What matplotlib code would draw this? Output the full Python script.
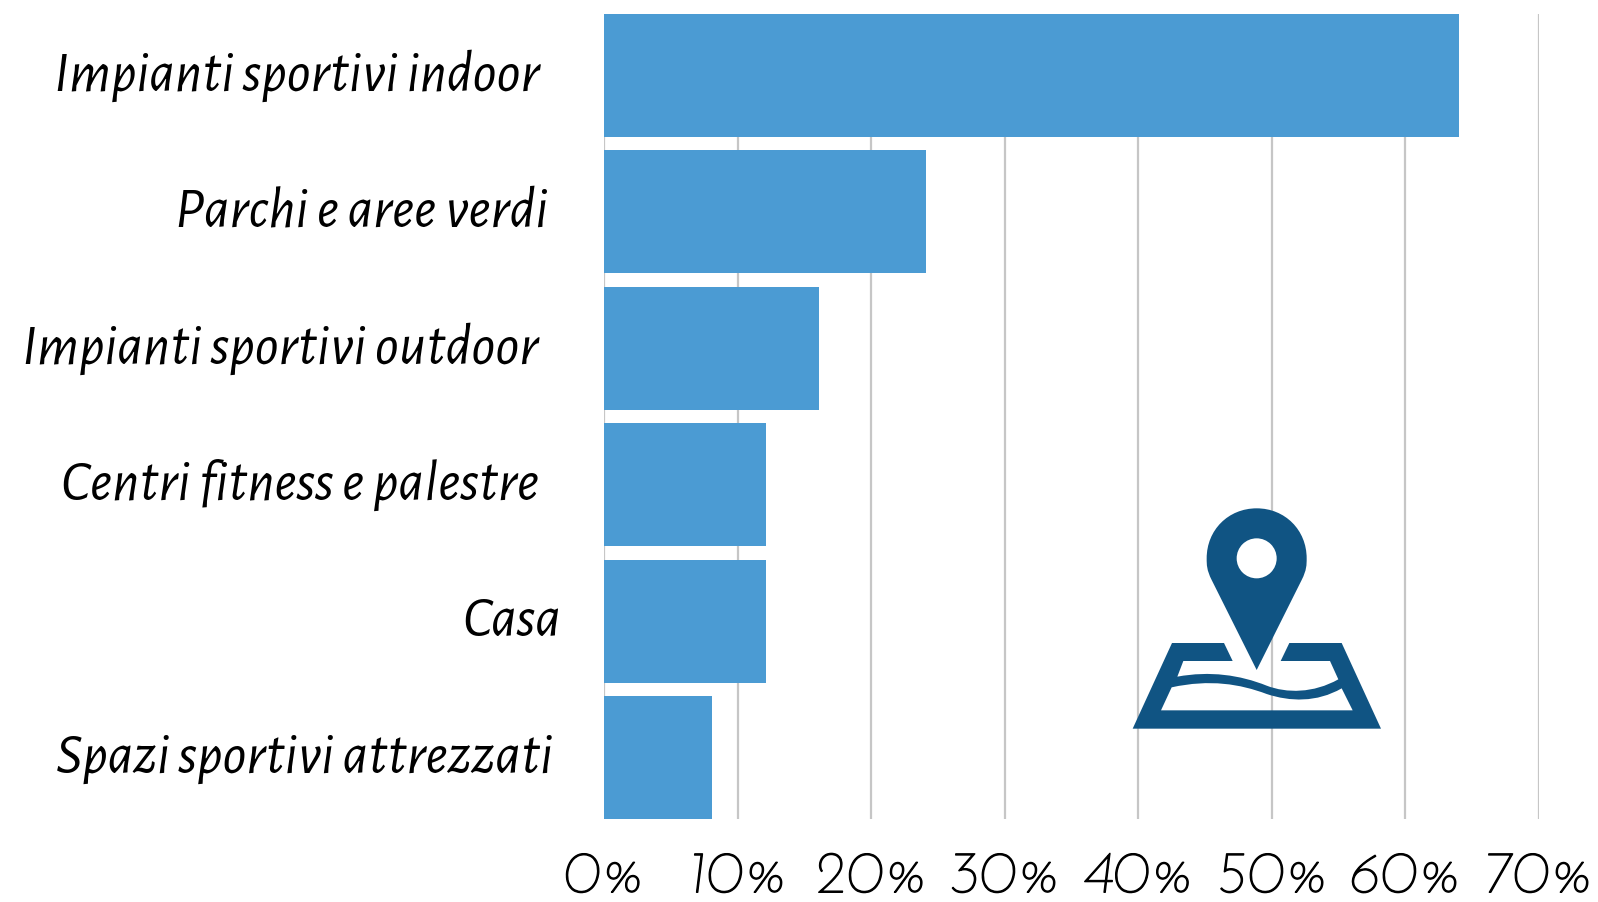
import matplotlib
matplotlib.use('Agg')
import matplotlib.pyplot as plt
import matplotlib.patheffects as pe
from matplotlib.path import Path
from matplotlib.patches import PathPatch, Circle

categorie = ['Impianti sportivi indoor', 'Parchi e aree verdi', 'Impianti sportivi outdoor',
             'Centri fitness e palestre', 'Casa', 'Spazi sportivi attrezzati']
valori = [64, 24.1, 16.1, 12.1, 12.1, 8.1]
tick_x = [0, 10, 20, 30, 40, 50, 60, 70]
tick_lab = ['0%', '10%', '20%', '30%', '40%', '50%', '60%', '70%']

# scarto del bordo destro delle etichette dall'asse, in pixel
scarto = [64, 56, 66, 65, 43, 51]

W, H = 1598, 902
fig = plt.figure(figsize=(W/100, H/100), dpi=100)
ax = fig.add_axes([604/W, 1-819/H, (1539-604)/W, (819-14)/H])
ax.set_xlim(0, 70)
ax.set_ylim(5.45, -0.45)
ax.barh(range(6), valori, height=0.9, color='#4b9bd3', zorder=3)
ax.set_xticks(tick_x)
ax.set_xticklabels(tick_lab, fontsize=42.5, family=['Josefin Sans', 'Lato'], style='italic', color='black',
                   path_effects=[pe.withStroke(linewidth=1.0, foreground='black')])
ax.tick_params(axis='x', length=0, pad=20)
ax.set_yticks([])
ax.grid(axis='x', color='#c6c6c6', lw=1.6, zorder=0)
ax.set_axisbelow(True)
for s in ax.spines.values():
    s.set_visible(False)

for i, c in enumerate(categorie):
    ax.annotate(c, xy=(0, i), xycoords='data', xytext=(-scarto[i]*0.72, 0), textcoords='offset points',
                ha='right', va='center', fontsize=42, style='italic',
                family=['Alegreya Sans', 'Lato'], color='black')

# icona mappa, coordinate in pixel della figura
ic = fig.add_axes([0, 0, 1, 1], facecolor='none', zorder=5)
ic.set_xlim(0, W)
ic.set_ylim(H, 0)
ic.axis('off')
blu = '#105483'


def p(x, y):
    return 1100+x/3, 480+y/3


M, L, C, Z = Path.MOVETO, Path.LINETO, Path.CURVE4, Path.CLOSEPOLY
spillo = [(470, 570), (335, 300), (320, 270), (320, 255), (320, 235), (320, 150), (385, 85), (470, 85),
          (555, 85), (620, 150), (620, 235), (620, 255), (620, 270), (605, 300), (470, 570)]
sc = [M, L, C, C, C, C, C, C, C, C, C, C, C, C, Z]
ic.add_patch(PathPatch(Path([p(*q) for q in spillo], sc), fc=blu, ec='none'))
ic.add_patch(Circle(p(470, 235), 20, fc='white', ec='none'))

sopra = [(98, 746), (216, 489), (372, 489), (398, 543), (250, 543), (232, 590),
         (330, 572), (420, 585), (500, 617), (560, 640), (640, 640), (715, 598),
         (690, 543), (542, 543), (568, 489), (725, 489), (843, 746), (98, 746)]
sotto = [(183, 691), (758, 691), (725, 625), (650, 668), (570, 665), (500, 642),
         (420, 612), (330, 597), (215, 622), (183, 691)]
cod = [M, L, L, L, L, L, C, C, C, C, C, C, L, L, L, L, L, Z]
cod2 = [M, L, L, C, C, C, C, C, C, Z]
ic.add_patch(PathPatch(Path([p(*q) for q in sopra+sotto], cod+cod2), fc=blu, ec='none'))

fig.savefig('out.png', dpi=100, facecolor='white')
